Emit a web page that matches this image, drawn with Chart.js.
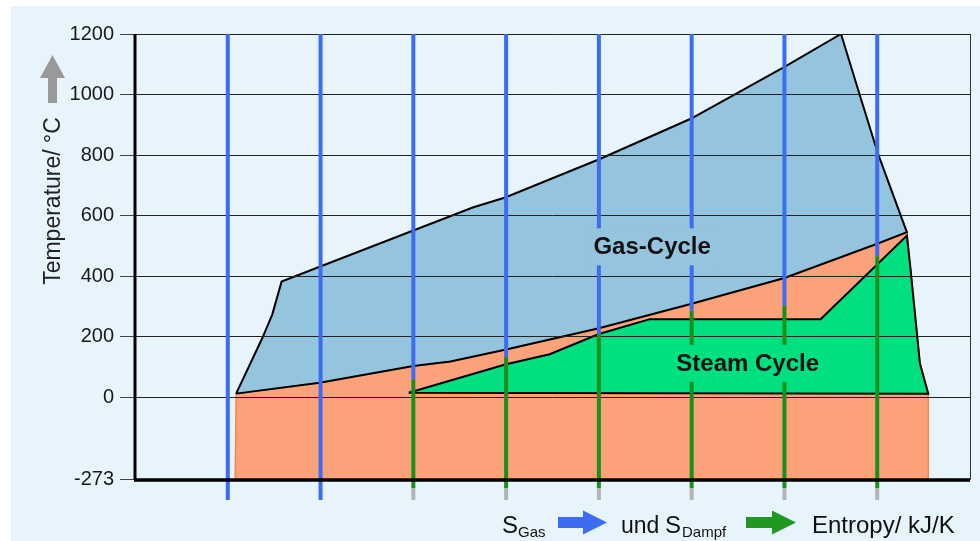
<!DOCTYPE html>
<html>
<head>
<meta charset="utf-8">
<script src="https://cdn.jsdelivr.net/npm/chart.js@4.4.1/dist/chart.umd.min.js"></script>
<style>
    html, body { margin: 0; padding: 0; background: #fff; }
    #wrap { width: 980px; height: 541px; }
</style>
</head>
<body>
<div id="wrap"><canvas id="tsDiagram" width="980" height="541"></canvas></div>
<script>
// entropy in line units (one vertical line per unit), temperature in °C
var entropyLines = [1, 2, 3, 4, 5, 6, 7, 8];
var steamLineTop = [null, null, 58, 133, 209, 286, 302, 466];
var tempTicks = [-273, 0, 200, 400, 600, 800, 1000, 1200];

var gasCycleS = [1.09, 1.37, 1.48, 1.58, 1.99, 3.64, 3.99, 5.01, 5.99, 7.01, 7.61, 7.81, 8.01, 8.32, 8.0, 7.0, 5.99, 5.0, 4.0, 3.4, 3.0, 1.99, 1.09];
var gasCycleT = [12, 194, 274, 382, 431, 627, 660, 787, 920, 1093, 1200, 1000, 803, 545, 507, 394, 308, 228, 158, 118, 103, 48, 12];

var steamCycleS = [2.95, 4.0, 4.47, 5.0, 5.55, 7.39, 8.32, 8.36, 8.46, 8.55, 2.95];
var steamCycleT = [15, 109, 142, 209, 258, 258, 534, 421, 112, 12, 15];

var heatS = [1.08, 1.09, 1.99, 3.0, 3.4, 4.0, 5.0, 5.99, 7.0, 8.0, 8.32, 8.36, 8.46, 8.55, 8.55, 1.08];
var heatT = [-273, 12, 48, 103, 118, 158, 228, 308, 394, 507, 545, 421, 112, 12, -273, -273];

var cycleLabels = ['Gas-Cycle', 'Steam Cycle'];
var labelS = [5.574, 6.604];
var labelT = [497, 112];

var TsDiagram = (function() {

    var FONT = '"Liberation Sans", Arial, sans-serif';
    var BLUE_FILL = '#94c4de';
    var GREEN_FILL = '#00e080';
    var ORANGE_FILL = '#fca27a';
    var LINE_BLUE = '#3c6cf2';
    var LINE_GREEN = '#1a8f1a';
    var TOP_T = 1200, AXIS_T = -273, GREEN_END_T = -300, LINE_END_T = -339;

    function TsDiagram() {
        this.ctx = document.getElementById('tsDiagram').getContext('2d');
    }

    function pts(xs, ys) {
        return xs.map(function(x, i) { return { x: x, y: ys[i] }; });
    }

    function segments(from, to) {
        var data = [];
        entropyLines.forEach(function(s, i) {
            var a = from(i), b = to(i);
            if (a === null || b === null) return;
            data.push({ x: s, y: a }, { x: s, y: b }, { x: s, y: null });
        });
        return data;
    }

    function area(id, xs, ys, fill, border, width, order) {
        return {
            id: id, data: pts(xs, ys), fill: 'shape', backgroundColor: fill,
            borderColor: border, borderWidth: width, order: order, pointRadius: 0
        };
    }

    function vline(data, color, order) {
        return { data: data, borderColor: color, borderWidth: 4, fill: false, spanGaps: false, order: order, pointRadius: 0 };
    }

    var decor = {
        id: 'decor',
        beforeDraw: function(chart) {
            var c = chart.ctx;
            c.save();
            c.fillStyle = '#ffffff';
            c.fillRect(0, 0, chart.width, chart.height);
            c.fillStyle = '#e8f4fc';
            c.fillRect(11, 6, chart.width - 11, chart.height - 6);
            c.restore();
        },
        afterDatasetDraw: function(chart, args) {
            // grid lines sit on top of the filled areas but under the entropy lines
            if (chart.data.datasets[args.index].id === 'gas') {
                chart.scales.y.drawGrid(chart.chartArea);
            }
        },
        afterDatasetsDraw: function(chart) {
            var c = chart.ctx, xs = chart.scales.x, ys = chart.scales.y;
            var boxes = [BLUE_FILL, GREEN_FILL];
            c.save();
            c.font = 'bold 24px ' + FONT;
            c.textAlign = 'center';
            c.textBaseline = 'middle';
            cycleLabels.forEach(function(txt, i) {
                var px = xs.getPixelForValue(labelS[i]);
                var py = ys.getPixelForValue(labelT[i]);
                var w = c.measureText(txt).width;
                c.fillStyle = boxes[i];
                c.fillRect(px - w / 2 - 4, py - 18.5, w + 8, 37);
                c.fillStyle = '#111';
                c.fillText(txt, px, py + 1);
            });
            c.restore();
        },
        afterDraw: function(chart) {
            var c = chart.ctx, ys = chart.scales.y, a = chart.chartArea;
            var yTop = ys.getPixelForValue(TOP_T), yAxis = ys.getPixelForValue(AXIS_T);
            c.save();
            c.strokeStyle = '#333';
            c.lineWidth = 1;
            c.beginPath(); c.moveTo(a.right + 0.5, yTop); c.lineTo(a.right + 0.5, yAxis); c.stroke();
            c.strokeStyle = '#000';
            c.lineWidth = 3;
            c.beginPath(); c.moveTo(a.left, yTop); c.lineTo(a.left, yAxis); c.stroke();
            c.lineWidth = 3.5;
            c.beginPath(); c.moveTo(a.left - 1, yAxis); c.lineTo(a.right, yAxis); c.stroke();

            // axis title with grey arrow
            c.fillStyle = '#999';
            c.fillRect(48, 77, 9, 26);
            c.beginPath(); c.moveTo(40, 78); c.lineTo(52.5, 55); c.lineTo(65, 78); c.closePath(); c.fill();
            c.fillStyle = '#222';
            c.font = '23px ' + FONT;
            c.translate(54, 201);
            c.rotate(-Math.PI / 2);
            c.textAlign = 'center';
            c.textBaseline = 'middle';
            c.fillText('Temperature/ °C', 0, 0);
            c.setTransform(1, 0, 0, 1, 0, 0);

            // entropy caption
            c.textAlign = 'left';
            c.textBaseline = 'alphabetic';
            c.fillStyle = '#111';
            c.font = '24px ' + FONT;
            c.fillText('S', 502, 533);
            c.fillText('S', 665, 533);
            c.fillText('Entropy/ kJ/K', 812, 533);
            c.font = '23px ' + FONT;
            c.fillText('und', 621, 533);
            c.font = '15px ' + FONT;
            c.fillText('Gas', 518, 537);
            c.fillText('Dampf', 682, 537);
            arrow(c, 558, 607, 522.5, LINE_BLUE);
            arrow(c, 746, 796, 522.5, '#1e9a1e');
            c.restore();
        }
    };

    function arrow(c, x0, x1, y, color) {
        c.fillStyle = color;
        c.fillRect(x0, y - 5.5, x1 - x0 - 22, 11);
        c.beginPath();
        c.moveTo(x1 - 24, y - 12); c.lineTo(x1, y); c.lineTo(x1 - 24, y + 12);
        c.closePath(); c.fill();
    }

    TsDiagram.prototype.start = function() {
        var datasets = [
            area('heat', heatS, heatT, ORANGE_FILL, '#f5874c', 1.5, 9),
            area('steam', steamCycleS, steamCycleT, GREEN_FILL, '#000', 2, 8),
            area('gas', gasCycleS, gasCycleT, BLUE_FILL, '#000', 2, 7),
            vline(segments(function() { return TOP_T; }, function(i) {
                return steamLineTop[i] === null ? LINE_END_T : steamLineTop[i];
            }), LINE_BLUE, 3),
            vline(segments(function(i) { return steamLineTop[i]; }, function(i) {
                return steamLineTop[i] === null ? null : GREEN_END_T;
            }), LINE_GREEN, 2),
            vline(segments(function(i) { return steamLineTop[i] === null ? null : GREEN_END_T; }, function() {
                return LINE_END_T;
            }), '#b4b4b4', 1)
        ];

        new Chart(this.ctx, {
            type: 'line',
            data: { datasets: datasets },
            options: {
                responsive: false,
                animation: false,
                devicePixelRatio: 1,
                layout: { padding: { top: 34, right: 10, bottom: 39, left: 0 } },
                elements: { line: { tension: 0 }, point: { radius: 0 } },
                plugins: { legend: { display: false }, tooltip: { enabled: false } },
                scales: {
                    x: { type: 'linear', min: 0, max: 9, display: false },
                    y: {
                        type: 'linear', min: -346, max: TOP_T,
                        afterBuildTicks: function(scale) {
                            scale.ticks = tempTicks.map(function(v) { return { value: v }; });
                        },
                        afterFit: function(scale) { scale.width = 135; },
                        border: { display: false },
                        grid: { color: '#222', lineWidth: 1, tickLength: 15, tickColor: '#444' },
                        ticks: {
                            padding: 6, color: '#1a1a1a', font: { size: 20, family: FONT },
                            callback: function(v) { return String(v); }
                        }
                    }
                }
            },
            plugins: [decor]
        });
    };

    return TsDiagram;

}());

new TsDiagram().start();
</script>
</body>
</html>
